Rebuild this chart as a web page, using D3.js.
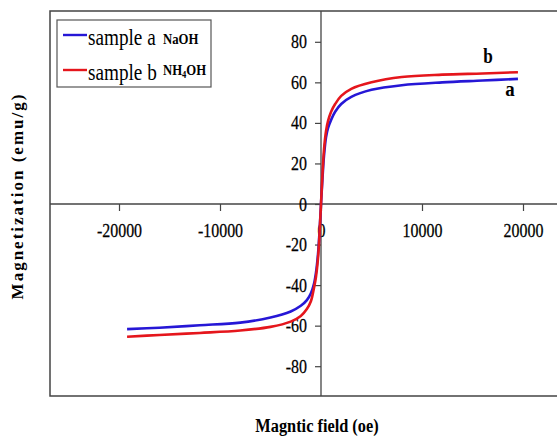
<!DOCTYPE html>
<html>
<head>
<meta charset="utf-8">
<script src="https://cdn.jsdelivr.net/npm/d3@7"></script>
<style>
  body { margin: 0; background: #fff; }
  text { font-family: "Liberation Serif", "Times New Roman", serif; fill: #000; }
</style>
</head>
<body>
<div id="chart"></div>
<script>
var width = 557,
    height = 436;

// magnetic field (oe) and magnetization (emu/g)
var field = [-19200, -16000, -12000, -8000, -5000, -3000, -2000, -1400, -1000, -700, -500, -300, -150, 0,
             150, 300, 500, 700, 1000, 1400, 2000, 3000, 5000, 8000, 12000, 16000, 19500];
var sampleA = [-61.7, -61.0, -59.8, -58.5, -56.0, -53.0, -50.2, -47.4, -44.0, -39.5, -34.0, -25.0, -14.0, 0,
               13.0, 24.0, 33.0, 37.5, 41.5, 45.5, 49.3, 52.8, 56.3, 58.6, 60.0, 60.9, 61.7];
var sampleB = [-65.5, -64.6, -63.6, -62.4, -60.6, -58.0, -55.2, -51.8, -48.0, -41.5, -36.0, -27.0, -15.0, 0,
               15.0, 27.0, 36.0, 41.0, 45.5, 49.3, 53.3, 56.8, 60.0, 62.6, 63.8, 64.4, 65.0];
var xTicks = [-20000, -10000, 0, 10000, 20000];
var yTicks = [-80, -60, -40, -20, 0, 20, 40, 60, 80];

var series = [
    {name: 'a', values: sampleA, color: '#2617d6'},
    {name: 'b', values: sampleB, color: '#e5161c'}
];

var svg = d3.select('#chart').append('svg')
    .attr('width', width)
    .attr('height', height);

var frame = {left: 50, top: 11, right: 560, bottom: 396};

var x = d3.scaleLinear()
    .domain([-20000, 20000])
    .range([119, 523]);
var y = d3.scaleLinear()
    .domain([-80, 80])
    .range([366.2, 41.8]);

// plain hyphen minus like the original
var fmt = function(d) { return String(d); };

// frame
svg.append('path')
    .attr('d', 'M' + frame.right + ',' + frame.top + 'H' + frame.left + 'V' + frame.bottom + 'H' + frame.right)
    .style('fill', 'none')
    .style('stroke', '#444')
    .style('stroke-width', 1.5);

// x axis through y = 0
var xAxis = svg.append('g')
    .attr('transform', 'translate(0,' + y(0) + ')')
    .call(d3.axisBottom(x).tickValues(xTicks).tickFormat(fmt).tickSize(7).tickPadding(13).tickSizeOuter(0));
xAxis.select('.domain').remove();
xAxis.append('line')
    .attr('x1', frame.left).attr('x2', frame.right)
    .style('stroke', '#444').style('stroke-width', 1.3);

// y axis through x = 0
var yAxis = svg.append('g')
    .attr('transform', 'translate(' + x(0) + ',0)')
    .call(d3.axisLeft(y).tickValues(yTicks).tickFormat(fmt).tickSize(6).tickSizeOuter(0));
yAxis.select('.domain').remove();
yAxis.append('line')
    .attr('y1', frame.top).attr('y2', frame.bottom)
    .style('stroke', '#444').style('stroke-width', 1.3);

svg.selectAll('.tick line').style('stroke', '#444').style('stroke-width', 1.2);
svg.selectAll('.tick text')
    .style('font-size', '19px')
    .style('font-family', '"Liberation Serif", "Times New Roman", serif')
    .style('fill', '#000')
    .style('stroke', '#000')
    .style('stroke-width', 0.25);
xAxis.selectAll('.tick text')
    .attr('transform', 'scale(0.84,1)');
yAxis.selectAll('.tick text')
    .attr('x', -14 / 0.84)
    .attr('transform', 'scale(0.84,1)');

// curves
var line = d3.line()
    .x(function(d, i) { return x(field[i]); })
    .y(function(d) { return y(d); })
    .curve(d3.curveCatmullRom.alpha(0.5));

svg.selectAll('.curve')
    .data(series)
    .enter()
    .append('path')
    .attr('class', 'curve')
    .attr('d', function(d) { return line(d.values); })
    .style('fill', 'none')
    .style('stroke', function(d) { return d.color; })
    .style('stroke-width', 2.6);

// curve labels
svg.append('text')
    .attr('transform', 'translate(488,63) scale(0.86,1)')
    .attr('text-anchor', 'middle')
    .style('font-size', '20px')
    .style('font-weight', 'bold')
    .text('b');
svg.append('text')
    .attr('transform', 'translate(510,96) scale(0.86,1)')
    .attr('text-anchor', 'middle')
    .style('font-size', '22px')
    .style('font-weight', 'bold')
    .text('a');

// legend
var legend = svg.append('g');
legend.append('rect')
    .attr('x', 57).attr('y', 20)
    .attr('width', 154).attr('height', 67)
    .style('fill', '#fff')
    .style('stroke', '#555')
    .style('stroke-width', 1.2);

var legendRows = [
    {color: series[0].color, label: 'sample a', y: 35},
    {color: series[1].color, label: 'sample b', y: 70}
];
var rows = legend.selectAll('.row')
    .data(legendRows)
    .enter().append('g')
    .attr('class', 'row');
rows.append('line')
    .attr('x1', 63).attr('x2', 87)
    .attr('y1', function(d) { return d.y; })
    .attr('y2', function(d) { return d.y; })
    .style('stroke', function(d) { return d.color; })
    .style('stroke-width', 2.4);
rows.append('text')
    .attr('transform', function(d) { return 'translate(88,' + (d.y + 10) + ') scale(0.8,1)'; })
    .style('font-size', '24px')
    .text(function(d) { return d.label; });

legend.append('text')
    .attr('transform', 'translate(163,44) scale(0.85,1)')
    .style('font-size', '15px')
    .style('font-weight', 'bold')
    .text('NaOH');
var nh = legend.append('text')
    .attr('transform', 'translate(163,75) scale(0.85,1)')
    .style('font-size', '15px')
    .style('font-weight', 'bold');
nh.append('tspan').text('NH');
nh.append('tspan').attr('dy', 3).style('font-size', '10px').text('4');
nh.append('tspan').attr('dy', -3).text('OH');

// axis titles
svg.append('text')
    .attr('transform', 'translate(317,432) scale(0.86,1)')
    .attr('text-anchor', 'middle')
    .style('font-size', '19px')
    .style('font-weight', 'bold')
    .text('Magntic field (oe)');
svg.append('text')
    .attr('transform', 'translate(23,196) rotate(-90)')
    .attr('text-anchor', 'middle')
    .style('font-size', '17px')
    .style('font-weight', 'bold')
    .style('letter-spacing', '2px')
    .text('Magnetization (emu/g)');
</script>
</body>
</html>
